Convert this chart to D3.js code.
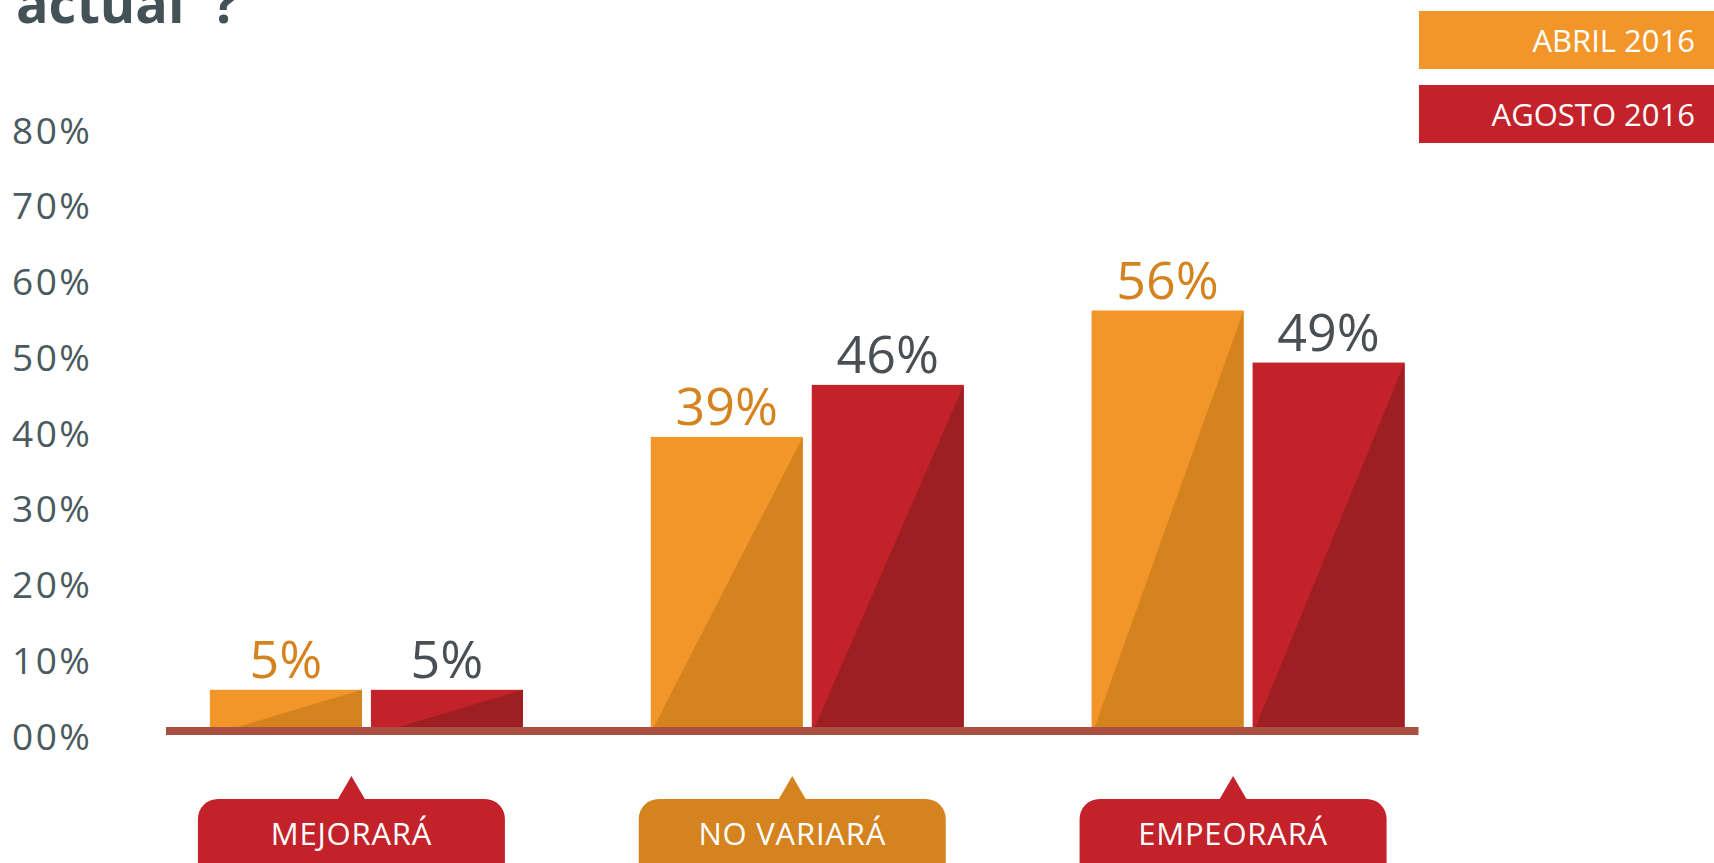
<!DOCTYPE html>
<html><head><meta charset="utf-8">
<script src="https://cdn.jsdelivr.net/npm/d3@7"></script>
<style>html,body{margin:0;padding:0;background:#fff;overflow:hidden}</style>
</head><body>
<svg id="chart" width="1714" height="863"></svg>
<script>
const categories = ["MEJORARÁ", "NO VARIARÁ", "EMPEORARÁ"];
const seriesNames = ["ABRIL 2016", "AGOSTO 2016"];
const abril2016 = [5, 39, 56];
const agosto2016 = [5, 46, 49];
const yTicks = [0, 10, 20, 30, 40, 50, 60, 70, 80];
const yTickLabels = ["00%", "10%", "20%", "30%", "40%", "50%", "60%", "70%", "80%"];
const titleText = "actual";

const light = ["#f3962a", "#c4222a"];
const dark = ["#d4831f", "#9d1f22"];
const valueColor = ["#d4831f", "#4a4f54"];
const bubbleColor = ["#c4222a", "#d4831f", "#c4222a"];
const font = "'Open Sans', sans-serif";

const svg = d3.select("#chart");
const W = 1714;

const x0 = d3.scaleBand().domain(categories).range([131, 1453.5]).padding(0);
const x1 = d3.scaleBand().domain(seriesNames).range([0, 313]).paddingInner(0.056).paddingOuter(0);
const y = d3.scaleLinear().domain([0, 80]).range([727, 132]);
const yLab = d3.scaleLinear().domain([0, 80]).range([749, 143]);
const barShift = 15;

// title (cut off at the top, as in the source)
const t = svg.append("text").attr("x", 16).attr("y", 23)
  .attr("font-family", font).attr("font-weight", 700).attr("font-size", 54)
  .attr("fill", "#435257");
t.append("tspan").text(titleText);
t.append("tspan").attr("dx", 28).text("?");

// y axis labels
const yAxis = d3.axisLeft(yLab).tickValues(yTicks).tickFormat((d, i) => yTickLabels[i]).tickSize(0);
const ga = svg.append("g").attr("transform", "translate(12,0)").call(yAxis);
ga.select(".domain").remove();
ga.selectAll("text").attr("x", 0).attr("dy", 0).attr("text-anchor", "start")
  .attr("font-family", font).attr("font-size", 37).attr("letter-spacing", 2.5)
  .attr("fill", "#4a5a5e");

// bars
const data = [];
categories.forEach((c, ci) => {
  [abril2016, agosto2016].forEach((arr, si) => data.push({c, ci, s: seriesNames[si], si, v: arr[ci]}));
});
const bx = d => x0(d.c) + x0.bandwidth() / 2 + barShift - 156.5 + x1(d.s);
const bw = x1.bandwidth();
const g = svg.append("g");
g.selectAll("rect.bar").data(data).join("rect").attr("class", "bar")
  .attr("x", bx).attr("y", d => y(d.v)).attr("width", bw).attr("height", d => y(0) - y(d.v))
  .attr("fill", d => light[d.si]);
g.selectAll("path.shade").data(data).join("path").attr("class", "shade")
  .attr("d", d => {
    const xl = bx(d), xr = xl + bw, yt = y(d.v), yb = y(0);
    const f = 1 - (yb - yt) / 200;
    const off = Math.min(40, 0.2 * bw * (f > 0 ? f : 0)) + 3;
    return `M${xl + off},${yb}L${xr},${yt}L${xr},${yb}Z`;
  })
  .attr("fill", d => dark[d.si]);
g.selectAll("text.val").data(data).join("text").attr("class", "val")
  .attr("x", d => bx(d) + bw / 2).attr("y", d => y(d.v) - 12)
  .attr("text-anchor", "middle").attr("font-family", font).attr("font-size", 52)
  .attr("fill", d => valueColor[d.si]).text(d => d.v + "%");

// baseline
svg.append("rect").attr("x", x0.range()[0] + 35).attr("y", y(0))
  .attr("width", (x0.range()[1] - 35) - (x0.range()[0] + 35)).attr("height", 8)
  .attr("fill", "#a84f42");

// category bubbles
const bubbles = svg.append("g").selectAll("g").data(categories).join("g")
  .attr("transform", d => `translate(${x0(d) + x0.bandwidth() / 2},0)`);
bubbles.append("rect").attr("x", -153.5).attr("y", 799).attr("width", 307).attr("height", 90)
  .attr("rx", 20).attr("fill", (d, i) => bubbleColor[i]);
bubbles.append("path").attr("d", "M-14,800L0,776L14,800Z").attr("fill", (d, i) => bubbleColor[i]);
bubbles.append("text").attr("x", 0).attr("y", 845).attr("text-anchor", "middle")
  .attr("font-family", font).attr("font-size", 31).attr("letter-spacing", 0.8)
  .attr("fill", "#fff").text(d => d);

// legend
const leg = svg.append("g").selectAll("g").data(seriesNames).join("g")
  .attr("transform", (d, i) => `translate(1419,${11 + i * 74})`);
leg.append("rect").attr("width", W - 1419).attr("height", 58).attr("fill", (d, i) => light[i]);
leg.append("text").attr("x", 1695 - 1419).attr("y", 41).attr("text-anchor", "end")
  .attr("font-family", font).attr("font-size", 31).attr("fill", "#fff").text(d => d);
</script>
</body></html>
